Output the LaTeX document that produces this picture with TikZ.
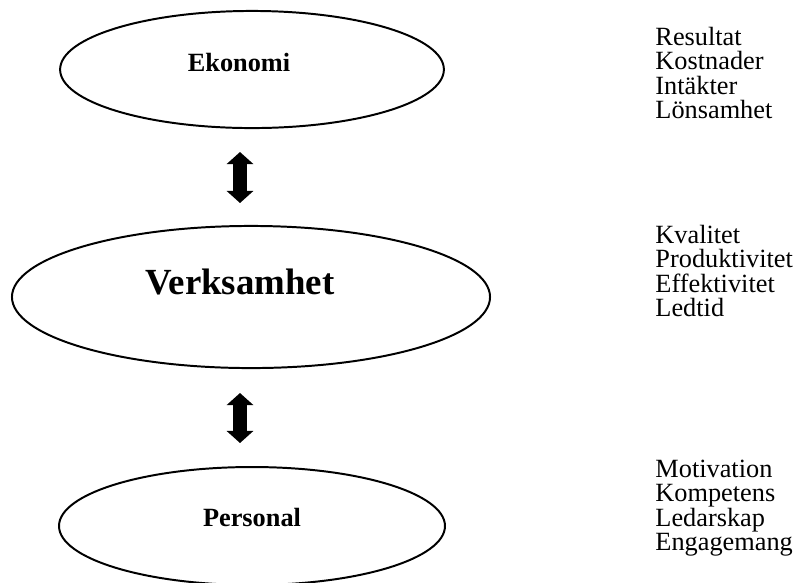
\documentclass[tikz,border=0pt]{standalone}
\usepackage{fontspec}
\setmainfont{Liberation Serif}
\usetikzlibrary{shapes.geometric,arrows.meta}

\tikzstyle{oval} = [ellipse, draw, line width=0.9pt, inner sep=0pt]
\tikzstyle{head} = [font=\bfseries\fontsize{12}{14}\selectfont]
\tikzstyle{item} = [anchor=base west, inner sep=0pt, font=\fontsize{12}{14}\selectfont]
\tikzstyle{both} = [line width=6.4pt,
	{Triangle[width=11.9pt,length=5.5pt]}-{Triangle[width=11.9pt,length=5.5pt]}]

\begin{document}
\begin{tikzpicture}[x=0.456pt,y=-0.456pt]
\clip (0,0) rectangle (798,582);
% the three ovals
\node [oval, minimum width=175pt, minimum height=53.4pt] (eko) at (252,69.5) {};
\node [oval, minimum width=218pt, minimum height=64.8pt] (verk) at (251,297) {};
\node [oval, minimum width=176pt, minimum height=53.8pt] (pers) at (252,526) {};
\node [head] (ekot) at (239,62) {Ekonomi};
\node [head, font=\bfseries\fontsize{16.8}{20}\selectfont] (verkt) at (240,282) {Verksamhet};
\node [head] (perst) at (252,517) {Personal};

% arrows between them
\coordinate (a1) at (240,152);
\coordinate (a2) at (240,203);
\coordinate (b1) at (240,393);
\coordinate (b2) at (240,443);
\draw [both] (a1) -- (a2);
\draw [both] (b1) -- (b2);

% key figures
\foreach \w [count=\i from 0] in {Resultat,Kostnader,Intäkter,Lönsamhet}
	\node [item] (r\i) at (655,45+24.5*\i) {\w};
\foreach \w [count=\i from 0] in {Kvalitet,Produktivitet,Effektivitet,Ledtid}
	\node [item] (v\i) at (655,243+24.5*\i) {\w};
\foreach \w [count=\i from 0] in {Motivation,Kompetens,Ledarskap,Engagemang}
	\node [item] (p\i) at (655,477+24.5*\i) {\w};
\end{tikzpicture}
\end{document}
